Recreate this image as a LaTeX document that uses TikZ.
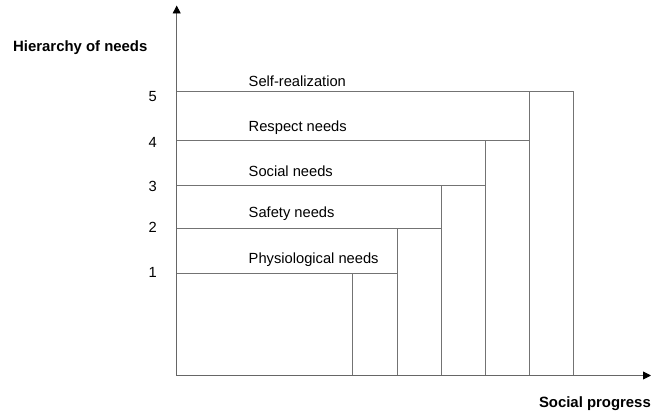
\documentclass[tikz,border=0pt]{standalone}
\usepackage{fontspec}
\setmainfont{Liberation Sans}
\usetikzlibrary{arrows.meta}
\begin{document}
\begin{tikzpicture}[x=1pt,y=-1pt,
  grid/.style={draw=black!55,line width=0.9pt},
  axis/.style={draw=black!60,line width=0.9pt,-{Triangle[length=8pt,width=8pt,black]}},
  lbl/.style={anchor=base west,inner sep=0pt,font=\fontsize{14.7}{16}\selectfont},
  num/.style={anchor=base east,inner sep=0pt,font=\fontsize{14.7}{16}\selectfont},
  ttl/.style={inner sep=0pt,font=\fontsize{14.9}{16}\selectfont\bfseries}]
\useasboundingbox (0,0) rectangle (651,417);
% axes
\coordinate (O) at (176.7,375.5);
\coordinate (ytop) at (176.7,5.5);
\coordinate (xend) at (651,375.5);
% levels
\coordinate (h5) at (176.7,91.7);
\coordinate (h4) at (176.7,140.7);
\coordinate (h3) at (176.7,185.5);
\coordinate (h2) at (176.7,228.6);
\coordinate (h1) at (176.7,273.3);
% right edges
\coordinate (v0) at (352.8,375.5);
\coordinate (v1) at (397.6,375.5);
\coordinate (v2) at (441.5,375.5);
\coordinate (v3) at (485.5,375.5);
\coordinate (v4) at (529.3,375.5);
\coordinate (v5) at (573.8,375.5);
% horizontal levels
\draw[grid] (h1) -- (h1 -| v1);
\draw[grid] (h2) -- (h2 -| v2);
\draw[grid] (h3) -- (h3 -| v3);
\draw[grid] (h4) -- (h4 -| v4);
\draw[grid] (h5) -- (h5 -| v5);
% vertical columns
\draw[grid] (v0) -- (v0 |- h1);
\draw[grid] (v1) -- (v1 |- h2);
\draw[grid] (v2) -- (v2 |- h3);
\draw[grid] (v3) -- (v3 |- h4);
\draw[grid] (v4) -- (v4 |- h5);
\draw[grid] (v5) -- (v5 |- h5);
% axes
\draw[axis] (O) -- (ytop);
\draw[axis] (O) -- (xend);
% labels
\node[lbl] (l5) at (248.5,86.5) {Self-realization};
\node[lbl] (l4) at (248.5,132) {Respect needs};
\node[lbl] (l3) at (248.5,177) {Social needs};
\node[lbl] (l2) at (248.5,218) {Safety needs};
\node[lbl] (l1) at (248.5,263) {Physiological needs};
% numbers
\node[num] (n5) at (157,101.7) {5};
\node[num] (n4) at (157,148) {4};
\node[num] (n3) at (157,192) {3};
\node[num] (n2) at (157,233) {2};
\node[num] (n1) at (157,277) {1};
% titles
\node[ttl,anchor=base west] (ty) at (13,52) {Hierarchy of needs};
\node[ttl,anchor=base east] (tx) at (651,407.5) {Social progress};
\end{tikzpicture}
\end{document}
